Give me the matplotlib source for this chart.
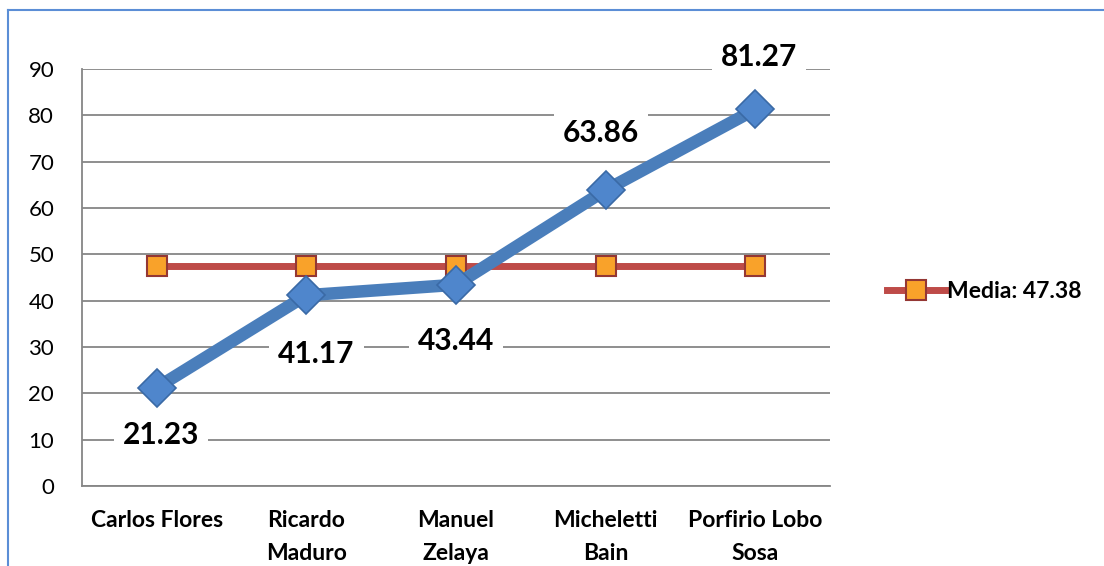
import matplotlib.pyplot as plt
from matplotlib.lines import Line2D

plt.rcParams['font.family'] = ['Lato', 'DejaVu Sans']

candidatos = ['Carlos Flores', 'Ricardo\nMaduro', 'Manuel\nZelaya', 'Micheletti\nBain', 'Porfirio Lobo\nSosa']
valores = [21.23, 41.17, 43.44, 63.86, 81.27]
media = 47.38
# label offsets in pixels (dx, dy) from each point
offsets = [(4, -47), (10, -59), (0, -56), (-5, 57), (4, 52)]

fig = plt.figure(figsize=(11.04, 5.66), dpi=100)
ax = fig.add_axes([82/1104, 80/566, 748/1104, 417/566])

x = [i + 0.5 for i in range(len(candidatos))]

ax.plot(x, valores, color='#4A7EBB', lw=9, solid_capstyle='butt', zorder=3,
        marker='D', ms=19, mfc='#4F86CC', mec='#3A6AA6', mew=1.2)
ax.plot(x, [media] * len(x), color='#BE4B48', lw=5, zorder=2,
        marker='s', ms=15, mfc='#F9A22A', mec='#943734', mew=1.5,
        label='Media: 47.38')

for xi, v, (dx, dy) in zip(x, valores, offsets):
    ax.annotate(f'{v:.2f}', (xi, v), xytext=(dx, dy), textcoords='offset pixels',
                ha='center', va='center', fontsize=21.5, fontweight='bold',
                bbox=dict(boxstyle='square,pad=0.3', fc='white', ec='none'), zorder=4)

ax.set_xlim(0, 5)
ax.set_ylim(0, 90)
ax.set_yticks(range(0, 91, 10))
ax.set_xticks(x)
ax.set_xticklabels(candidatos, fontsize=16.5, fontweight='bold', linespacing=1.75)
ax.tick_params(axis='y', labelsize=16, length=0, pad=20)
ax.tick_params(axis='x', length=0, pad=17)
ax.yaxis.grid(True, color='#868686', lw=1.3)
ax.set_axisbelow(True)
for s in ['top', 'right']:
    ax.spines[s].set_visible(False)
ax.spines['left'].set_color('#868686')
ax.spines['bottom'].set_color('#868686')
ax.spines['left'].set_linewidth(1.3)
ax.spines['bottom'].set_linewidth(1.3)

leg = ax.legend(loc='center left', bbox_to_anchor=(1.048, 0.466), frameon=False,
                prop={'size': 16.5, 'weight': 'bold'}, handlelength=2.6, handletextpad=0.05)

# blue frame around the chart area
fig.add_artist(Line2D([8/1104, 8/1104], [0, 1 - 10/566], color='#5B8ED6', lw=1.5))
fig.add_artist(Line2D([8/1104, 1], [1 - 10/566, 1 - 10/566], color='#5B8ED6', lw=1.5))

fig.savefig('out.png', dpi=100)
